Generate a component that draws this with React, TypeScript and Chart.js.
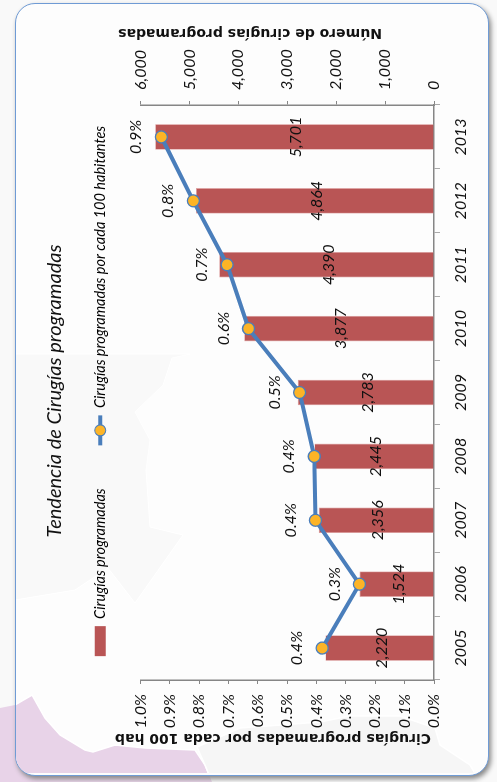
import React, { useEffect, useRef } from "react";
import Chart from "chart.js/auto";

const years = ["2005", "2006", "2007", "2008", "2009", "2010", "2011", "2012", "2013"];
const surgeries = [2220, 1524, 2356, 2445, 2783, 3877, 4390, 4864, 5701];
const ratePer100 = [0.381, 0.254, 0.404, 0.408, 0.458, 0.632, 0.705, 0.82, 0.929];
const chartTitle = "Tendencia de Cirugías programadas";
const barLabel = "Cirugías programadas";
const lineLabel = "Cirugías programadas por cada 100 habitantes";
const leftAxisTitle = "Cirugías programadas por cada 100 hab";
const rightAxisTitle = "Número de cirugías programadas";

const W = 782;
const H = 497;
const FONT = "Lato";
const TICK_SIZE = 16;
const LINE = "#4a7ebb";
const MARK = "#fdb426";
const BAR = "#b95555";
const AXIS = "#868686";

const overlay = {
  id: "overlay",
  afterDatasetsDraw(chart: any) {
    const ctx = chart.ctx;
    const barMeta = chart.getDatasetMeta(1);
    const lineMeta = chart.getDatasetMeta(0);
    ctx.save();
    ctx.fillStyle = "#111";
    ctx.textAlign = "center";
    ctx.textBaseline = "middle";
    ctx.font = `italic ${TICK_SIZE}px ${FONT}`;
    barMeta.data.forEach((el: any, i: number) => {
      ctx.fillText(surgeries[i].toLocaleString("en-US"), el.x, (el.y + el.base) / 2 + 2);
    });
    lineMeta.data.forEach((el: any, i: number) => {
      ctx.fillText(ratePer100[i].toFixed(1) + "%", el.x, el.y - 25);
    });
    ctx.font = `bold 14px "DejaVu Sans"`;
    const vertical = (text: string, x: number, y: number) => {
      ctx.save();
      ctx.translate(x, y);
      ctx.rotate(-Math.PI / 2);
      ctx.fillText(text, 0, 0);
      ctx.restore();
    };
    vertical(leftAxisTitle, 44, 273);
    vertical(rightAxisTitle, 749, 250);
    const box = chart.legend.legendHitBoxes[1];
    const lx = box.left;
    const ly = box.top + box.height / 2;
    ctx.strokeStyle = LINE;
    ctx.lineWidth = 4;
    ctx.beginPath();
    ctx.moveTo(lx, ly);
    ctx.lineTo(lx + 30, ly);
    ctx.stroke();
    ctx.beginPath();
    ctx.arc(lx + 15, ly, 5.5, 0, Math.PI * 2);
    ctx.fillStyle = MARK;
    ctx.fill();
    ctx.lineWidth = 1.2;
    ctx.stroke();
    ctx.restore();
  },
};

export default function App() {
  const ref = useRef<HTMLCanvasElement | null>(null);
  useEffect(() => {
    document.body.style.margin = "0";
    const chart = new Chart(ref.current as HTMLCanvasElement, {
      type: "bar",
      data: {
        labels: years,
        datasets: [
          {
            type: "line",
            label: lineLabel,
            data: ratePer100,
            yAxisID: "yRate",
            order: 0,
            borderColor: LINE,
            borderWidth: 4,
            pointRadius: 6,
            pointBorderWidth: 1.3,
            pointBackgroundColor: MARK,
            pointBorderColor: LINE,
            tension: 0,
          },
          {
            type: "bar",
            label: barLabel,
            data: surgeries,
            yAxisID: "yCount",
            order: 1,
            backgroundColor: BAR,
            borderColor: "#dc9c9c",
            borderWidth: 0.7,
            categoryPercentage: 1,
            barPercentage: 0.4,
          },
        ],
      } as any,
      options: {
        responsive: false,
        animation: false,
        layout: { padding: 0 },
        plugins: {
          tooltip: { enabled: false },
          title: {
            display: true,
            text: chartTitle,
            color: "#111",
            font: { family: FONT, size: 20, style: "italic", weight: "normal", lineHeight: 1.2 },
            padding: { top: 43, bottom: -17 },
          },
          subtitle: {
            display: true,
            text: "",
            font: { size: 1, lineHeight: 1 },
            padding: { top: 0, bottom: 22 },
          },
          legend: {
            display: true,
            position: "top",
            weight: 1600,
            labels: {
              color: "#111",
              boxWidth: 30,
              boxHeight: 11,
              padding: 43,
              font: { family: FONT, size: 14.5, style: "italic" },
              generateLabels: () => [
                { text: barLabel, fillStyle: BAR, strokeStyle: BAR, lineWidth: 0, datasetIndex: 1 },
                { text: lineLabel, fillStyle: "rgba(0,0,0,0)", strokeStyle: "rgba(0,0,0,0)", lineWidth: 0, datasetIndex: 0 },
              ],
            },
          },
        },
        scales: {
          x: {
            offset: true,
            afterFit: (s: any) => { s.height = H - 434; },
            border: { color: AXIS, width: 1.5 },
            grid: { offset: true, drawOnChartArea: false, drawTicks: true, tickLength: 6, color: "#aaaaaa" },
            ticks: { color: "#111", padding: 11, maxRotation: 0, minRotation: 0, font: { family: FONT, size: TICK_SIZE, style: "italic" } },
          },
          yRate: {
            position: "left",
            min: 0,
            max: 1,
            afterFit: (s: any) => { s.width = 102; },
            border: { color: AXIS, width: 1.5 },
            grid: { drawOnChartArea: false, tickLength: 4, color: AXIS },
            ticks: {
              stepSize: 0.1,
              padding: 10,
              color: "#111",
              font: { family: FONT, size: TICK_SIZE, style: "italic" },
              callback: (v: any) => Number(v).toFixed(1) + "%",
            },
          },
          yCount: {
            position: "right",
            min: 0,
            max: 6000,
            afterFit: (s: any) => { s.width = W - 677; },
            border: { color: AXIS, width: 1.5 },
            grid: { drawOnChartArea: false, tickLength: 4, color: AXIS },
            ticks: {
              stepSize: 1000,
              padding: 11,
              color: "#111",
              font: { family: FONT, size: TICK_SIZE, style: "italic" },
              callback: (v: any) => Number(v).toLocaleString("en-US"),
            },
          },
        },
      } as any,
      plugins: [overlay],
    });
    return () => chart.destroy();
  }, []);

  return (
    <div style={{ position: "relative", width: 497, height: 782, overflow: "hidden", background: "#f9f9f9" }}>
      <svg width={497} height={782} style={{ position: "absolute", left: 0, top: 0 }}>
        <polygon points="0,708 15,705 32,695 45,718 60,735 85,750 93,752 115,745 145,748 195,750 205,765 212,782 0,782" fill="#e8d3e8" />
      </svg>
      <div
        style={{
          position: "absolute",
          left: 15,
          top: 3,
          width: 474,
          height: 773,
          boxSizing: "border-box",
          border: "1px solid #6f9bd5",
          borderRadius: 20,
          boxShadow: "2px 3px 5px #888",
          overflow: "hidden",
          background: "#fdfdfd",
        }}
      >
        <svg width={474} height={773} style={{ position: "absolute", left: -16, top: -4 }}>
          <polygon points="0,708 15,705 32,695 45,718 60,735 85,750 93,752 115,745 145,748 195,750 205,765 212,782 0,782" fill="#e8d3e8" stroke="#ffffff" strokeWidth={1.5} />
          <polygon points="205,765 197,747 240,728 320,722 350,716 400,716 435,728 440,745 470,765 480,782 212,782" fill="#f6f6f6" stroke="#ffffff" strokeWidth={1.5} />
          <polygon points="15,600 45,595 75,590 108,568 135,603 183,535 150,527 146,470 150,440 135,412 163,385 172,358 190,354 15,354" fill="#f9f9f9" stroke="#ffffff" strokeWidth={1} />
        </svg>
      </div>
      <canvas
        ref={ref}
        width={W}
        height={H}
        style={{
          position: "absolute",
          left: 0,
          top: 0,
          width: W,
          height: H,
          transformOrigin: "0 0",
          transform: `translate(0px, ${W}px) rotate(-90deg)`,
        }}
      />
    </div>
  );
}
